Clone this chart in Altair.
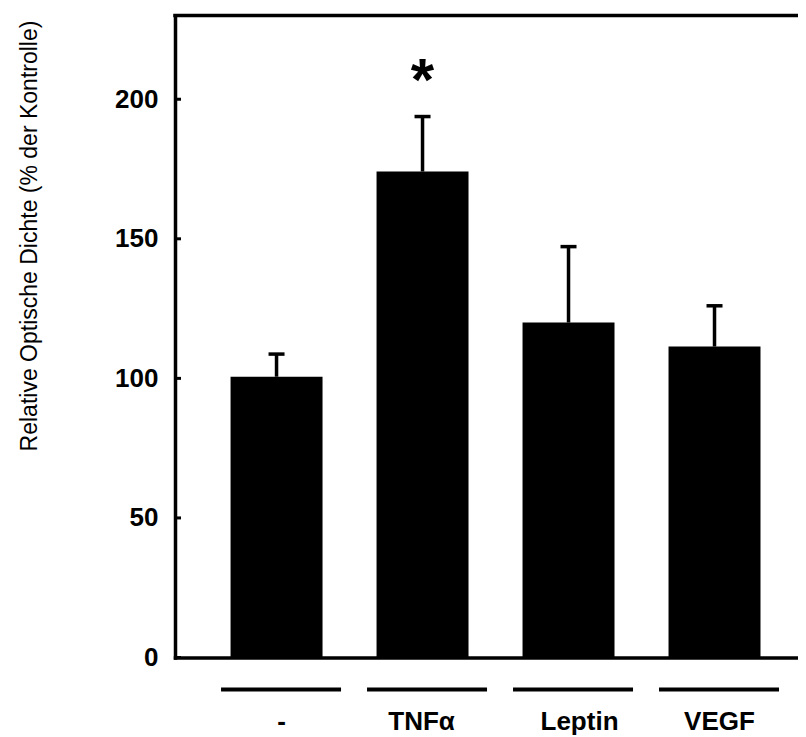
import altair as alt
import pandas as pd

categories = ["-", "TNFα", "Leptin", "VEGF"]
means = [100.6, 174.1, 120.0, 111.4]
errors = [8.1, 19.7, 27.2, 14.6]
significance = ["", "*", "", ""]
y_ticks = [0, 50, 100, 150, 200]

df = pd.DataFrame({"cat": categories, "mean": means, "err": errors, "sig": significance})
df["upper"] = df["mean"] + df["err"]
tick_df = pd.DataFrame({"t": y_ticks})
frame_df = pd.DataFrame({"a": [0]})

FONT = "Liberation Sans"
W, H = 623, 642
Y_TITLE = "Relative Optische Dichte (% der Kontrolle)"

xscale = alt.Scale(domain=categories, paddingInner=0.37, paddingOuter=0.3187, align=0.597)
yscale = alt.Scale(domain=[0, 230], nice=False, zero=True)

x_ax = alt.Axis(
    title=None, labelAngle=0, ticks=False, tickSize=0,
    domainColor="black", domainWidth=3.5, domainCap="square",
    labelFont=FONT, labelFontSize=26, labelFontWeight="bold", labelColor="black",
    labelPadding=72, labelBaseline="alphabetic",
    labelOffset={
        "condition": [
            {"test": "datum.value === 'Leptin'", "value": 11},
            {"test": "datum.value === 'TNFα'", "value": -1},
        ],
        "value": 5,
    },
)
y_ax = alt.Axis(
    title=Y_TITLE, values=y_ticks,
    ticks=False, tickSize=0, grid=False,
    domainColor="black", domainWidth=3.5, domainCap="square",
    labelFont=FONT, labelFontSize=26, labelFontWeight="bold", labelColor="black",
    labelPadding=17,
    titleFont=FONT, titleFontSize=23, titleFontWeight="normal", titleColor="black",
    titleX=-146, titleY=220, titleAngle=270, titleBaseline="middle", titleAlign="center",
)

x_enc = alt.X("cat:N", scale=xscale, sort=categories, axis=x_ax)


def y_enc(field):
    return alt.Y(field, scale=yscale, axis=y_ax)


bars = alt.Chart(df).mark_bar(color="black").encode(x=x_enc, y=y_enc("mean:Q"))

err_line = alt.Chart(df).mark_rule(color="black", strokeWidth=3.5, opacity=1).encode(
    x=x_enc, y=y_enc("mean:Q"), y2="upper:Q",
)

err_cap = alt.Chart(df).mark_tick(
    color="black", orient="horizontal", size=16, thickness=3.5, opacity=1
).encode(x=x_enc, y=y_enc("upper:Q"))

star = alt.Chart(df).mark_text(
    color="black", font=FONT, fontSize=60, fontWeight="bold", baseline="middle", dy=-35
).encode(x=x_enc, y=y_enc("upper:Q"), text="sig:N")

underline = alt.Chart(df).mark_tick(
    color="black", orient="horizontal", size=120, thickness=4, xOffset=4.5, opacity=1
).encode(x=x_enc, y=alt.value(674))

inner_ticks = alt.Chart(tick_df).mark_rule(color="black", strokeWidth=3).encode(
    x=alt.value(0), x2=alt.value(6), y=y_enc("t:Q"),
)

top_border = alt.Chart(frame_df).mark_rule(color="black", strokeWidth=3.5, strokeCap="square").encode(
    x=alt.value(0), x2=alt.value(W), y=alt.value(0)
)

chart = alt.layer(bars, err_line, err_cap, star, underline, inner_ticks, top_border).properties(
    width=W, height=H,
    padding={"left": 167, "top": 7.5, "right": 0, "bottom": 78},
    autosize=alt.AutoSizeParams(type="none"),
    background="white",
).configure_view(strokeWidth=0)

chart.save("out.html", embed_options={"renderer": "svg", "actions": False})
